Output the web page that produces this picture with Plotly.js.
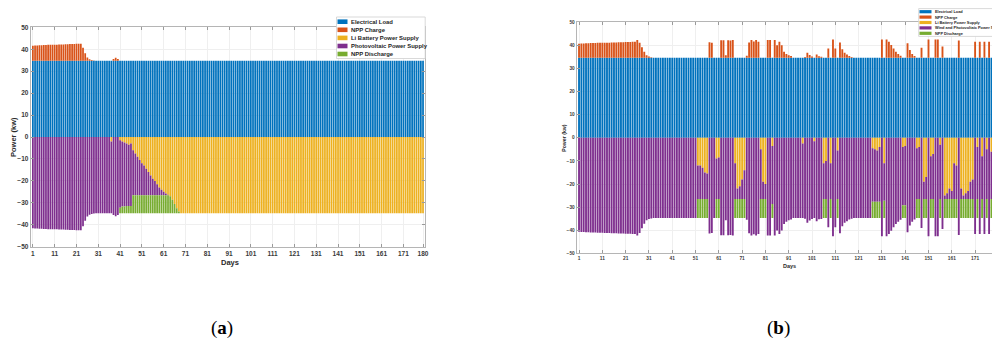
<!DOCTYPE html>
<html>
<head>
<meta charset="utf-8">
<script src="https://cdn.plot.ly/plotly-3.0.1.min.js"></script>
<style>
html,body{margin:0;padding:0;background:#fff;overflow:hidden;}
#chart{width:1000px;height:345px;}
</style>
</head>
<body>
<div id="chart"></div>
<script>
// ---------------- DATA ----------------
const seriesNamesA = ["Electrical Load","NPP Charge","Li Battery Power Supply","Photovoltaic Power Supply","NPP Discharge"];
const seriesNamesB = ["Electrical Load","NPP Charge","Li Battery Power Supply","Wind and Photovoltaic Power Supply","NPP Discharge"];
const tickDays = [1,11,21,31,41,51,61,71,81,91,101,111,121,131,141,151,161,171,180];
const yTicks = [-50,-40,-30,-20,-10,0,10,20,30,40,50];

// ----- (a) -----
const loadA = [
34.7,34.7,34.7,34.7,34.7,34.7,34.7,34.7,34.7,34.7,
34.7,34.7,34.7,34.7,34.7,34.7,34.7,34.7,34.7,34.7,
34.7,34.7,34.7,34.7,34.7,34.7,34.7,34.7,34.7,34.7,
34.7,34.7,34.7,34.7,34.7,34.7,34.7,34.7,34.7,34.7,
34.7,34.7,34.7,34.7,34.7,34.7,34.7,34.7,34.7,34.7,
34.7,34.7,34.7,34.7,34.7,34.7,34.7,34.7,34.7,34.7,
34.7,34.7,34.7,34.7,34.7,34.7,34.7,34.7,34.7,34.7,
34.7,34.7,34.7,34.7,34.7,34.7,34.7,34.7,34.7,34.7,
34.7,34.7,34.7,34.7,34.7,34.7,34.7,34.7,34.7,34.7,
34.7,34.7,34.7,34.7,34.7,34.7,34.7,34.7,34.7,34.7,
34.7,34.7,34.7,34.7,34.7,34.7,34.7,34.7,34.7,34.7,
34.7,34.7,34.7,34.7,34.7,34.7,34.7,34.7,34.7,34.7,
34.7,34.7,34.7,34.7,34.7,34.7,34.7,34.7,34.7,34.7,
34.7,34.7,34.7,34.7,34.7,34.7,34.7,34.7,34.7,34.7,
34.7,34.7,34.7,34.7,34.7,34.7,34.7,34.7,34.7,34.7,
34.7,34.7,34.7,34.7,34.7,34.7,34.7,34.7,34.7,34.7,
34.7,34.7,34.7,34.7,34.7,34.7,34.7,34.7,34.7,34.7,
34.7,34.7,34.7,34.7,34.7,34.7,34.7,34.7,34.7,34.7];
const chargeA = [
6.9,7.0,7.0,7.1,7.1,7.2,7.2,7.3,7.3,7.3,
7.4,7.4,7.5,7.5,7.5,7.6,7.6,7.7,7.7,7.7,
7.8,7.8,7.8,6.0,3.5,1.5,0.7,0.4,0.2,0,
0,0,0,0,0,0,0,0.8,1.4,0.9,
0,0,0,0,0,0,0,0,0,0,
0,0,0,0,0,0,0,0,0,0,
0,0,0,0,0,0,0,0,0,0,
0,0,0,0,0,0,0,0,0,0,
0,0,0,0,0,0,0,0,0,0,
0,0,0,0,0,0,0,0,0,0,
0,0,0,0,0,0,0,0,0,0,
0,0,0,0,0,0,0,0,0,0,
0,0,0,0,0,0,0,0,0,0,
0,0,0,0,0,0,0,0,0,0,
0,0,0,0,0,0,0,0,0,0,
0,0,0,0,0,0,0,0,0,0,
0,0,0,0,0,0,0,0,0,0,
0,0,0,0,0,0,0,0,0,0];
const liA = [
0,0,0,0,0,0,0,0,0,0,
0,0,0,0,0,0,0,0,0,0,
0,0,0,0,0,0,0,0,0,0,
0,0,0,0,0,0,-2.0,0,0,0,
-1.5,-2.0,-2.5,-3.0,-3.5,-3.0,-6.0,-7.5,-9.0,-10.5,
-12.0,-13.0,-14.5,-16.0,-17.5,-19.0,-20.0,-21.5,-23.0,-24.0,
-25.0,-25.8,-26.3,-27.0,-28.6,-30.5,-32.5,-34.0,-34.7,-34.7,
-34.7,-34.7,-34.7,-34.7,-34.7,-34.7,-34.7,-34.7,-34.7,-34.7,
-34.7,-34.7,-34.7,-34.7,-34.7,-34.7,-34.7,-34.7,-34.7,-34.7,
-34.7,-34.7,-34.7,-34.7,-34.7,-34.7,-34.7,-34.7,-34.7,-34.7,
-34.7,-34.7,-34.7,-34.7,-34.7,-34.7,-34.7,-34.7,-34.7,-34.7,
-34.7,-34.7,-34.7,-34.7,-34.7,-34.7,-34.7,-34.7,-34.7,-34.7,
-34.7,-34.7,-34.7,-34.7,-34.7,-34.7,-34.7,-34.7,-34.7,-34.7,
-34.7,-34.7,-34.7,-34.7,-34.7,-34.7,-34.7,-34.7,-34.7,-34.7,
-34.7,-34.7,-34.7,-34.7,-34.7,-34.7,-34.7,-34.7,-34.7,-34.7,
-34.7,-34.7,-34.7,-34.7,-34.7,-34.7,-34.7,-34.7,-34.7,-34.7,
-34.7,-34.7,-34.7,-34.7,-34.7,-34.7,-34.7,-34.7,-34.7,-34.7,
-34.7,-34.7,-34.7,-34.7,-34.7,-34.7,-34.7,-34.7,-34.7,-34.7];
const pvA = [
-41.6,-41.7,-41.7,-41.8,-41.8,-41.9,-41.9,-42.0,-42.0,-42.0,
-42.1,-42.1,-42.2,-42.2,-42.2,-42.3,-42.3,-42.4,-42.4,-42.4,
-42.5,-42.5,-42.5,-40.7,-38.2,-36.2,-35.4,-35.1,-34.9,-34.7,
-34.7,-34.7,-34.7,-34.7,-34.7,-34.7,-32.7,-35.5,-36.1,-35.6,
-30.7,-29.7,-29.2,-28.5,-28.0,-28.5,-20.6,-19.1,-17.6,-16.1,
-14.6,-13.6,-12.1,-10.6,-9.1,-7.6,-6.6,-5.1,-3.6,-2.6,
-1.6,-0.8,-0.3,0,0,0,0,0,0,0,
0,0,0,0,0,0,0,0,0,0,
0,0,0,0,0,0,0,0,0,0,
0,0,0,0,0,0,0,0,0,0,
0,0,0,0,0,0,0,0,0,0,
0,0,0,0,0,0,0,0,0,0,
0,0,0,0,0,0,0,0,0,0,
0,0,0,0,0,0,0,0,0,0,
0,0,0,0,0,0,0,0,0,0,
0,0,0,0,0,0,0,0,0,0,
0,0,0,0,0,0,0,0,0,0,
0,0,0,0,0,0,0,0,0,0];
const disA = [
0,0,0,0,0,0,0,0,0,0,
0,0,0,0,0,0,0,0,0,0,
0,0,0,0,0,0,0,0,0,0,
0,0,0,0,0,0,0,0,0,0,
-2.5,-3.0,-3.0,-3.2,-3.2,-3.2,-8.1,-8.1,-8.1,-8.1,
-8.1,-8.1,-8.1,-8.1,-8.1,-8.1,-8.1,-8.1,-8.1,-8.1,
-8.1,-8.1,-8.1,-7.7,-6.1,-4.2,-2.2,-0.7,0,0,
0,0,0,0,0,0,0,0,0,0,
0,0,0,0,0,0,0,0,0,0,
0,0,0,0,0,0,0,0,0,0,
0,0,0,0,0,0,0,0,0,0,
0,0,0,0,0,0,0,0,0,0,
0,0,0,0,0,0,0,0,0,0,
0,0,0,0,0,0,0,0,0,0,
0,0,0,0,0,0,0,0,0,0,
0,0,0,0,0,0,0,0,0,0,
0,0,0,0,0,0,0,0,0,0,
0,0,0,0,0,0,0,0,0,0];

// ----- (b) -----
const loadB = loadA.slice();
const chargeB = [
6.0,6.1,6.1,6.2,6.2,6.3,6.3,6.3,6.4,6.4,
6.4,6.5,6.5,6.5,6.6,6.6,6.6,6.7,6.7,6.7,
6.8,6.8,6.8,6.9,6.9,7.6,6.5,4.5,2.5,1.0,
0.5,0.2,0,0,0,0,0,0,0,0,
0,0,0,0,0,0,0,0,0,0,
0,0,0,0,0,0,6.7,6.5,0,0,
0,7.5,7.5,1.0,7.5,7.4,7.6,0,0,0,
0,0,0.8,6.6,7.6,7.0,7.6,6.9,0,0,
0,7.6,7.6,0,7.6,5.4,6.9,5.4,2.6,1.6,
1.0,0.7,0,0,0,0,0,0.3,2.1,1.1,
0.5,0,1.4,0.6,0.4,0,0,4.0,0,7.9,
4.0,0,6.6,3.6,2.1,1.4,0.7,0.3,0,0,
0,0,0,0,0,0,0,0,0,0,
7.9,0,7.9,6.9,5.5,4.0,2.6,1.6,0.8,0,
0,6.2,3.3,1.6,0.7,0,0,4.3,0,0,
7.9,0,0,7.9,7.9,0,4.8,0,0,0,
0,0,0,7.4,0,0,0,0,0,0,
6.9,0,6.9,0,6.9,0,6.9,0,0,0];
const liB = [
0,0,0,0,0,0,0,0,0,0,
0,0,0,0,0,0,0,0,0,0,
0,0,0,0,0,0,0,0,0,0,
0,0,0,0,0,0,0,0,0,0,
0,0,0,0,0,0,0,0,0,0,
0,-12,-12,-13,-15,-15.5,0,0,0,-9,
-8.5,0,0,0,0,0,0,-11,-22,-21,
-18,-14,0,0,0,0,0,0,-5,-19,
-20,0,0,-3.5,0,0,0,0,0,0,
0,0,0,0,0,0,-2.5,0,0,0,
0,-1.5,0,0,0,-11,-10,0,-11,0,
0,-5.5,0,0,0,0,0,0,0,0,
0,0,0,0,0,0,-4.5,-5,-5.5,-4,
0,-11,0,0,0,0,0,0,0,-4,
-3.5,0,0,0,0,-4.5,-4,0,-19,-17,
0,-8,-7,0,0,-3,0,-25,-24,-22,
-23,-11,-12,0,-22,-25,-24,-23,-19,-18,
0,-4,0,-8,0,-5,0,-6,-6,-6];
const pvB = [
-40.7,-40.8,-40.8,-40.9,-40.9,-41.0,-41.0,-41.0,-41.1,-41.1,
-41.1,-41.2,-41.2,-41.2,-41.3,-41.3,-41.3,-41.4,-41.4,-41.4,
-41.5,-41.5,-41.5,-41.6,-41.6,-42.3,-41.2,-39.2,-37.2,-35.7,
-35.2,-34.9,-34.7,-34.7,-34.7,-34.7,-34.7,-34.7,-34.7,-34.7,
-34.7,-34.7,-34.7,-34.7,-34.7,-34.7,-34.7,-34.7,-34.7,-34.7,
-34.7,-14.5,-14.5,-13.5,-11.5,-11.0,-41.4,-41.2,-34.7,-17.5,
-18.0,-42.2,-42.2,-35.7,-42.2,-42.1,-42.3,-15.5,-4.5,-5.5,
-8.5,-12.5,-35.5,-41.3,-42.3,-41.7,-42.3,-41.6,-21.5,-7.5,
-6.5,-42.3,-42.3,-25.2,-42.3,-40.1,-41.6,-40.1,-37.3,-36.3,
-35.7,-35.4,-34.7,-34.7,-34.7,-34.7,-32.2,-35.0,-36.8,-35.8,
-35.2,-33.2,-36.1,-35.3,-35.1,-15.5,-16.5,-38.7,-15.5,-42.6,
-38.7,-21.0,-41.3,-38.3,-36.8,-36.1,-35.4,-35.0,-34.7,-34.7,
-34.7,-34.7,-34.7,-34.7,-34.7,-34.7,-23.2,-22.7,-22.2,-23.7,
-42.6,-16.2,-42.6,-41.6,-40.2,-38.7,-37.3,-36.3,-35.5,-25.2,
-25.7,-40.9,-38.0,-36.3,-35.4,-22.0,-22.5,-39.0,-7.5,-9.5,
-42.6,-18.5,-19.5,-42.6,-42.6,-23.5,-39.5,-1.5,-2.5,-4.5,
-3.5,-15.5,-14.5,-42.1,-4.5,-1.5,-2.5,-3.5,-7.5,-8.5,
-41.6,-22.5,-41.6,-18.5,-41.6,-21.5,-41.6,-20.5,-20.5,-20.5];
const disB = [
0,0,0,0,0,0,0,0,0,0,
0,0,0,0,0,0,0,0,0,0,
0,0,0,0,0,0,0,0,0,0,
0,0,0,0,0,0,0,0,0,0,
0,0,0,0,0,0,0,0,0,0,
0,-8.2,-8.2,-8.2,-8.2,-8.2,0,0,0,-8.2,
-8.2,0,0,0,0,0,0,-8.2,-8.2,-8.2,
-8.2,-8.2,0,0,0,0,0,0,-8.2,-8.2,
-8.2,0,0,-6,0,0,0,0,0,0,
0,0,0,0,0,0,0,0,0,0,
0,0,0,0,0,-8.2,-8.2,0,-8.2,0,
0,-8.2,0,0,0,0,0,0,0,0,
0,0,0,0,0,0,-7,-7,-7,-7,
0,-7.5,0,0,0,0,0,0,0,-5.5,
-5.5,0,0,0,0,-8.2,-8.2,0,-8.2,-8.2,
0,-8.2,-8.2,0,0,-8.2,0,-8.2,-8.2,-8.2,
-8.2,-8.2,-8.2,0,-8.2,-8.2,-8.2,-8.2,-8.2,-8.2,
0,-8.2,0,-8.2,0,-8.2,0,-8.2,-8.2,-8.2];

// ---------------- BUILD ----------------
const W = 1000, H = 345;
const days = loadA.map((_, i) => i + 1);
const colors = ["#0072BD","#D95319","#EDB120","#7E2F8E","#77AC30"];

function traces(series, names, xa, ya) {
  return series.map((vals, k) => ({
    type: "bar", x: days, y: vals, name: names[k], xaxis: xa, yaxis: ya,
    marker: {color: colors[k], line: {width: 0}}, showlegend: false,
    hoverinfo: "skip"
  }));
}
const data = [].concat(
  traces([loadA, chargeA, liA, pvA, disA], seriesNamesA, "x", "y"),
  traces([loadB, chargeB, liB, pvB, disB], seriesNamesB, "x2", "y2")
);

const px = v => v / W, py = v => (H - v) / H;

function xax(dom, fs) {
  return {
    domain: [px(dom[0]), px(dom[1])], range: [0, 181],
    tickvals: tickDays, ticktext: tickDays.map(String),
    ticks: "inside", ticklen: 3, tickcolor: "#9a9a9a", mirror: "ticks",
    showline: true, linecolor: "#b5b5b5", linewidth: 1,
    showgrid: true, gridcolor: "#efefef", zeroline: false,
    tickfont: {family: "Liberation Sans, Arial, sans-serif", size: fs, color: "#3a3a3a", weight: 700},
    fixedrange: true
  };
}
function yax(dom, fs) {
  return {
    domain: [py(dom[1]), py(dom[0])], range: [-50, 50],
    tickvals: yTicks, ticks: "inside", ticklen: 3, tickcolor: "#9a9a9a", mirror: "ticks",
    showline: true, linecolor: "#b5b5b5", linewidth: 1,
    showgrid: true, gridcolor: "#efefef", zeroline: false,
    tickfont: {family: "Liberation Sans, Arial, sans-serif", size: fs, color: "#3a3a3a", weight: 700},
    fixedrange: true
  };
}

const xa = xax([30.7, 425.2], 6.5);
const ya = yax([27.3, 246.7], 6.5);
const xb = xax([576.7, 998.4], 4.8); xb.anchor = "y2";
const yb = yax([22.3, 253.3], 4.8); yb.anchor = "x2";
xa.anchor = "y"; ya.anchor = "x";

const shapes = [], annotations = [];
function legend(box, sw, rows, tx, fs, names) {
  shapes.push({type: "rect", xref: "paper", yref: "paper",
    x0: px(box[0]), x1: px(box[1]), y0: py(box[3]), y1: py(box[2]),
    fillcolor: "#ffffff", line: {color: "#cfcfcf", width: 0.8}, layer: "above"});
  rows.forEach((r, k) => {
    shapes.push({type: "rect", xref: "paper", yref: "paper",
      x0: px(sw[0]), x1: px(sw[1]), y0: py(r + sw[2] / 2), y1: py(r - sw[2] / 2),
      fillcolor: colors[k], line: {width: 0}, layer: "above"});
    annotations.push({xref: "paper", yref: "paper", x: px(tx), y: py(r),
      xanchor: "left", yanchor: "middle", showarrow: false, text: names[k],
      font: {family: "Liberation Sans, Arial, sans-serif", size: fs, color: "#1e1e1e", weight: 700}});
  });
}
legend([336.5, 425.2, 17, 58.5], [337.5, 347.5, 4.6], [21.7, 29.8, 37.9, 46.0, 54.0], 348.6, 5.9, seriesNamesA);
legend([918.7, 1000, 8.6, 36.4], [919.5, 931.5, 3.2], [11.7, 17.1, 22.5, 27.9, 33.3], 932.8, 3.9, seriesNamesB);

function txt(x, y, text, fs, angle, fam) {
  annotations.push({xref: "paper", yref: "paper", x: px(x), y: py(y), xanchor: "center", yanchor: "middle",
    showarrow: false, text: text, textangle: angle || 0,
    font: {family: fam || "Liberation Sans, Arial, sans-serif", size: fs, color: "#2a2a2a", weight: 700}});
}
txt(230, 262.7, "Days", 7.5);
txt(13, 137, "Power (kw)", 7.5, -90);
txt(789, 265.5, "Days", 5.5);
txt(564, 137.8, "Power (kw)", 5.2, -90);
annotations.push({xref: "paper", yref: "paper", x: px(222), y: py(328), xanchor: "center", yanchor: "middle",
  showarrow: false, text: "(<b>a</b>)", font: {family: "Liberation Serif, Times New Roman, serif", size: 19, color: "#000"}});
annotations.push({xref: "paper", yref: "paper", x: px(778), y: py(328), xanchor: "center", yanchor: "middle",
  showarrow: false, text: "(<b>b</b>)", font: {family: "Liberation Serif, Times New Roman, serif", size: 19, color: "#000"}});

const layout = {
  width: W, height: H, margin: {l: 0, r: 0, t: 0, b: 0},
  paper_bgcolor: "#ffffff", plot_bgcolor: "#ffffff",
  barmode: "relative", bargap: 0.2, showlegend: false,
  xaxis: xa, yaxis: ya, xaxis2: xb, yaxis2: yb,
  shapes: shapes, annotations: annotations
};
Plotly.newPlot("chart", data, layout, {staticPlot: true, displayModeBar: false});
</script>
</body>
</html>
